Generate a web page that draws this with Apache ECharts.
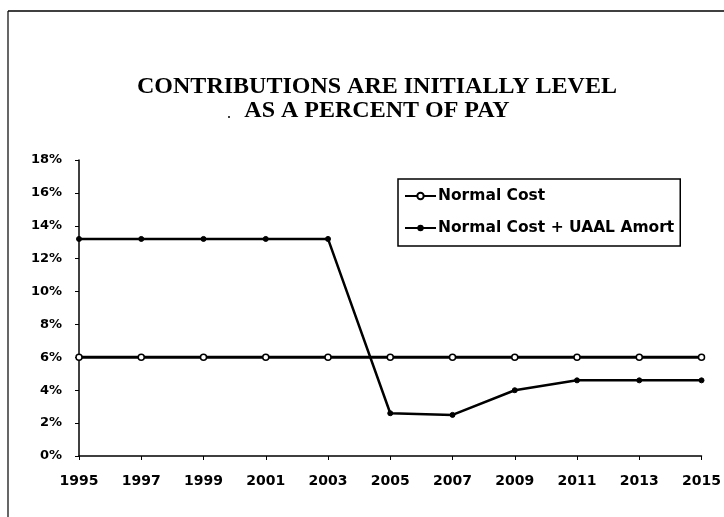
<!DOCTYPE html>
<html>
<head>
<meta charset="utf-8">
<script src="https://cdn.jsdelivr.net/npm/echarts@6/dist/echarts.min.js"></script>
<style>html,body{margin:0;padding:0;background:#fff}#c{width:724px;height:517px}</style>
</head>
<body>
<div id="c"></div>
<script>
const years = ['1995','1997','1999','2001','2003','2005','2007','2009','2011','2013','2015'];
const normalCost = [6, 6, 6, 6, 6, 6, 6, 6, 6, 6, 6];
const normalPlusUaal = [13.2, 13.2, 13.2, 13.2, 13.2, 2.6, 2.5, 4.0, 4.6, 4.6, 4.6];
const seriesNames = ['Normal Cost', 'Normal Cost + UAAL Amort'];
const titleLines = ['CONTRIBUTIONS ARE INITIALLY LEVEL', 'AS A PERCENT OF PAY'];

const chart = echarts.init(document.getElementById('c'));
const sans = '"DejaVu Sans", "Liberation Sans", Arial, sans-serif';
chart.setOption({
  backgroundColor: '#fff',
  animation: false,
  title: {
    text: titleLines.join('\n'),
    left: 372, top: 70, textAlign: 'center',
    textStyle: { fontFamily: '"Liberation Serif", "Times New Roman", serif', fontWeight: 'bold', fontSize: 24, color: '#000', lineHeight: 24 }
  },
  legend: {
    orient: 'vertical',
    left: 398, top: 179,
    padding: [8, 6, 9, 6],
    itemGap: 14,
    itemWidth: 31, itemHeight: 8,
    borderColor: '#000', borderWidth: 1.5,
    backgroundColor: '#fff',
    textStyle: { fontFamily: sans, fontWeight: 'bold', fontSize: 15.5, color: '#000', padding: [0, 0, 0, -3], lineHeight: 18 },
    data: seriesNames
  },
  grid: { left: 79, right: 21, top: 160, bottom: 61, containLabel: false },
  xAxis: {
    type: 'category', data: years, boundaryGap: false,
    axisLine: { lineStyle: { color: '#000', width: 1.5 } },
    axisTick: { show: true, alignWithLabel: true, length: 4, lineStyle: { color: '#000' } },
    axisLabel: { fontFamily: sans, fontWeight: 'bold', fontSize: 14, color: '#000', margin: 18, interval: 0 }
  },
  yAxis: {
    type: 'value', min: 0, max: 18, interval: 2,
    axisLine: { show: true, lineStyle: { color: '#000', width: 1.5 } },
    axisTick: { show: true, length: 4, lineStyle: { color: '#000' } },
    splitLine: { show: false },
    axisLabel: { fontFamily: sans, fontWeight: 'bold', fontSize: 13, color: '#000', margin: 17, formatter: v => v + '%' }
  },
  series: [
    {
      name: seriesNames[0], type: 'line', data: normalCost,
      symbol: 'circle', symbolSize: 6, showSymbol: true,
      lineStyle: { color: '#000', width: 3 },
      itemStyle: { color: '#fff', borderColor: '#000', borderWidth: 1.5 }
    },
    {
      name: seriesNames[1], type: 'line', data: normalPlusUaal,
      symbol: 'circle', symbolSize: 5, showSymbol: true,
      lineStyle: { color: '#000', width: 2.5 },
      itemStyle: { color: '#000', borderColor: '#000' }
    }
  ],
  graphic: [
    { type: 'line', shape: { x1: 8, y1: 11, x2: 724, y2: 11 }, style: { stroke: '#000', lineWidth: 1.5 } },
    { type: 'line', shape: { x1: 8, y1: 11, x2: 8, y2: 517 }, style: { stroke: '#000', lineWidth: 1.2 } },
    { type: 'circle', shape: { cx: 229, cy: 117, r: 1 }, style: { fill: '#000' } }
  ]
});
</script>
</body>
</html>
